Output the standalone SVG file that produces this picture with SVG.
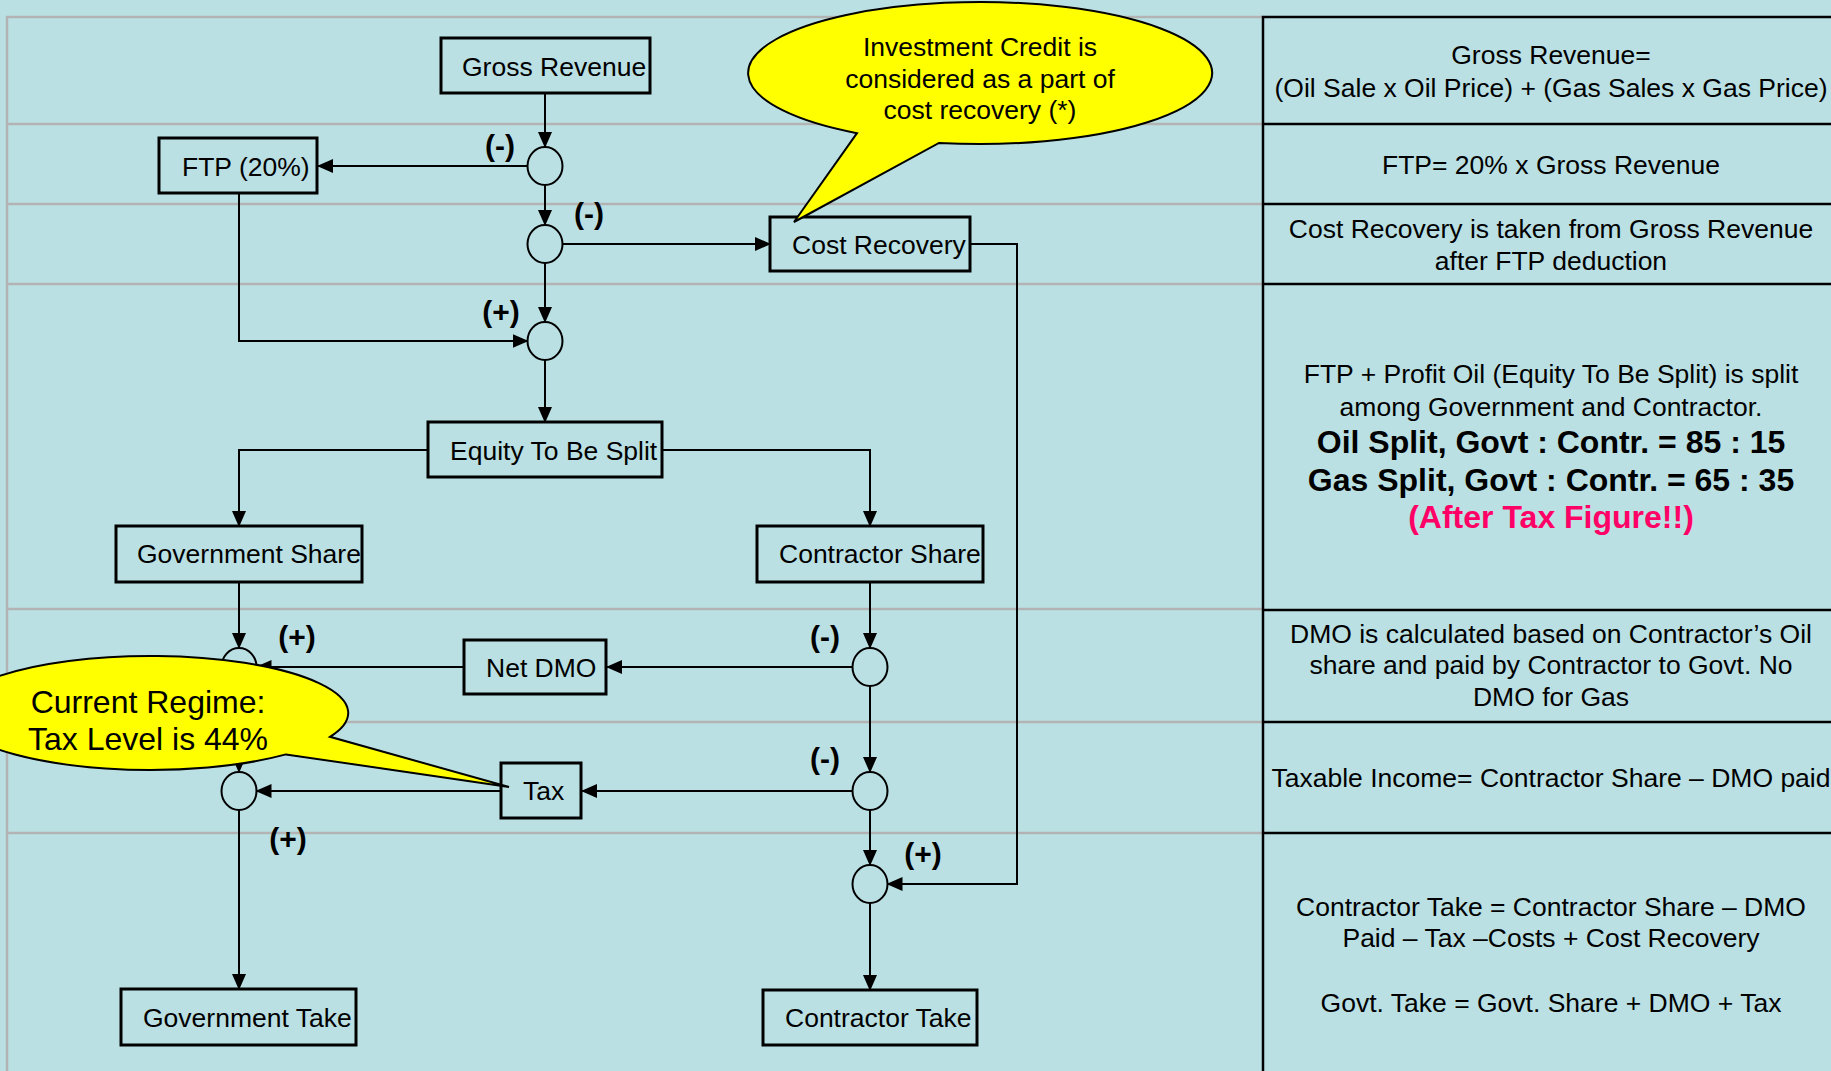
<svg xmlns="http://www.w3.org/2000/svg" width="1831" height="1071" viewBox="0 0 1831 1071">
<style>
text{font-family:"Liberation Sans",Arial,sans-serif;fill:#000}
.lbl{font-size:26.5px}
.note{font-size:26.5px;text-anchor:middle}
.big{font-size:32px;font-weight:bold;text-anchor:middle}
.sign{font-size:30px;font-weight:bold;text-anchor:middle}
.box{fill:none;stroke:#000;stroke-width:3}
.sum{fill:none;stroke:#000;stroke-width:2}
.con{fill:none;stroke:#000;stroke-width:2;marker-end:url(#arr)}
.grid{stroke:#b3b3b3;stroke-width:2.5;fill:none}
.panel{stroke:#000;stroke-width:2.5;fill:none}
.callout{fill:#ffff00;stroke:#000;stroke-width:2}
.ctext{text-anchor:middle}
</style>
<defs>
<marker id="arr" markerWidth="16" markerHeight="14" refX="15" refY="7" orient="auto" markerUnits="userSpaceOnUse">
<path d="M0,0 L16,7 L0,14 Z" fill="#000"/>
</marker>
</defs>
<rect width="1831" height="1071" fill="#bae0e4"/>
<g id="grid">
<path class="grid" d="M7 1071 V17 H1263 M7 124 H1263 M7 204 H1263 M7 284 H1263 M7 609 H1263 M7 722 H1263 M7 833 H1263"/>
<path class="panel" d="M1263 1071 V17 H1831 M1263 124 H1831 M1263 204 H1831 M1263 284 H1831 M1263 610 H1831 M1263 722 H1831 M1263 833 H1831"/>
</g>
<g id="connectors">
<path class="con" d="M545 93 V147"/>
<path class="con" d="M527.5 166 H318"/>
<path class="con" d="M545 185 V225"/>
<path class="con" d="M562.5 244 H770"/>
<path class="con" d="M239 193 V341 H527.5"/>
<path class="con" d="M545 263 V322"/>
<path class="con" d="M545 360 V422"/>
<path class="con" d="M428 450 H239 V526"/>
<path class="con" d="M662 450 H870 V526"/>
<path class="con" d="M239 582 V648"/>
<path class="con" d="M870 582 V648"/>
<path class="con" d="M852.5 667 H607"/>
<path class="con" d="M464 667 H256.5"/>
<path class="con" d="M239 686 V772"/>
<path class="con" d="M870 686 V772"/>
<path class="con" d="M852.5 791 H582"/>
<path class="con" d="M501 791 H256.5"/>
<path class="con" d="M239 810 V989"/>
<path class="con" d="M870 810 V865"/>
<path class="con" d="M970 244 H1017 V884 H887.5"/>
<path class="con" d="M870 903 V990"/>
</g>
<g id="gross-revenue"><rect class="box" x="441" y="38" width="209" height="55"/><text class="lbl" x="462" y="76">Gross Revenue</text></g>
<g id="ftp"><rect class="box" x="159" y="138" width="158" height="55"/><text class="lbl" x="182" y="176">FTP (20%)</text></g>
<g id="cost-recovery"><rect class="box" x="770" y="217" width="200" height="54"/><text class="lbl" x="792" y="254">Cost Recovery</text></g>
<g id="equity"><rect class="box" x="428" y="422" width="234" height="55"/><text class="lbl" x="450" y="460">Equity To Be Split</text></g>
<g id="gov-share"><rect class="box" x="116" y="526" width="246" height="56"/><text class="lbl" x="137" y="563">Government Share</text></g>
<g id="contr-share"><rect class="box" x="757" y="526" width="226" height="56"/><text class="lbl" x="779" y="563">Contractor Share</text></g>
<g id="net-dmo"><rect class="box" x="464" y="640" width="142" height="54"/><text class="lbl" x="486" y="677">Net DMO</text></g>
<g id="tax"><rect class="box" x="501" y="763" width="80" height="55"/><text class="lbl" x="523" y="800">Tax</text></g>
<g id="gov-take"><rect class="box" x="121" y="989" width="235" height="56"/><text class="lbl" x="143" y="1027">Government Take</text></g>
<g id="contr-take"><rect class="box" x="763" y="990" width="214" height="55"/><text class="lbl" x="785" y="1027">Contractor Take</text></g>
<g id="sum1"><ellipse class="sum" cx="545" cy="166" rx="17.5" ry="19"/></g>
<g id="sum2"><ellipse class="sum" cx="545" cy="244" rx="17.5" ry="19"/></g>
<g id="sum3"><ellipse class="sum" cx="545" cy="341" rx="17.5" ry="19"/></g>
<g id="sum4"><ellipse class="sum" cx="239" cy="667" rx="17.5" ry="19"/></g>
<g id="sum5"><ellipse class="sum" cx="239" cy="791" rx="17.5" ry="19"/></g>
<g id="sum6"><ellipse class="sum" cx="870" cy="667" rx="17.5" ry="19"/></g>
<g id="sum7"><ellipse class="sum" cx="870" cy="791" rx="17.5" ry="19"/></g>
<g id="sum8"><ellipse class="sum" cx="870" cy="884" rx="17.5" ry="19"/></g>
<g id="signs">
<text class="sign" x="500" y="156">(-)</text>
<text class="sign" x="589" y="224">(-)</text>
<text class="sign" x="501" y="322">(+)</text>
<text class="sign" x="297" y="647">(+)</text>
<text class="sign" x="825" y="647">(-)</text>
<text class="sign" x="825" y="769">(-)</text>
<text class="sign" x="288" y="849">(+)</text>
<text class="sign" x="923" y="864">(+)</text>
</g>
<g id="callout-investment">
<path class="callout" d="M857 133.2 A232 71 0 1 1 939 142.9 L794 222 Z"/>
<text class="lbl ctext" x="980" y="56">Investment Credit is</text>
<text class="lbl ctext" x="980" y="88">considered as a part of</text>
<text class="lbl ctext" x="980" y="119">cost recovery (*)</text>
</g>
<g id="callout-tax">
<path class="callout" d="M330 736.8 A198 57 0 1 0 286 754.4 L509 787 Z"/>
<text class="ctext" x="148" y="713" font-size="32">Current Regime:</text>
<text class="ctext" x="148" y="750" font-size="32">Tax Level is 44%</text>
</g>
<g id="notes">
<text class="note" x="1551" y="64">Gross Revenue=</text>
<text class="note" x="1551" y="97">(Oil Sale x Oil Price) + (Gas Sales x Gas Price)</text>
<text class="note" x="1551" y="174">FTP= 20% x Gross Revenue</text>
<text class="note" x="1551" y="238">Cost Recovery is taken from Gross Revenue</text>
<text class="note" x="1551" y="270">after FTP deduction</text>
<text class="note" x="1551" y="383">FTP + Profit Oil (Equity To Be Split) is split</text>
<text class="note" x="1551" y="416">among Government and Contractor.</text>
<text class="big" x="1551" y="453">Oil Split, Govt : Contr. = 85 : 15</text>
<text class="big" x="1551" y="491">Gas Split, Govt : Contr. = 65 : 35</text>
<text class="big" x="1551" y="528" style="fill:#ff0066">(After Tax Figure!!)</text>
<text class="note" x="1551" y="643">DMO is calculated based on Contractor’s Oil</text>
<text class="note" x="1551" y="674">share and paid by Contractor to Govt. No</text>
<text class="note" x="1551" y="706">DMO for Gas</text>
<text class="note" x="1551" y="787">Taxable Income= Contractor Share – DMO paid</text>
<text class="note" x="1551" y="916">Contractor Take = Contractor Share – DMO</text>
<text class="note" x="1551" y="947">Paid – Tax –Costs + Cost Recovery</text>
<text class="note" x="1551" y="1012">Govt. Take = Govt. Share + DMO + Tax</text>
</g>
</svg>
